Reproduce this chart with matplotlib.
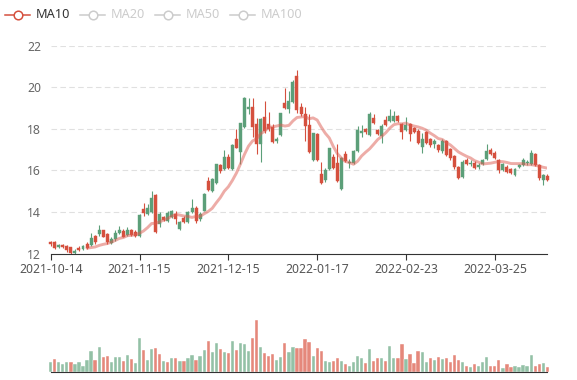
import matplotlib
matplotlib.use("Agg")
import matplotlib.pyplot as plt
import numpy as np
import pandas as pd
from matplotlib.lines import Line2D

plt.rcParams['font.family'] = ['Noto Sans', 'DejaVu Sans']

holidays = ["2022-01-03", "2022-01-31", "2022-02-01", "2022-02-02", "2022-02-03",
            "2022-02-04", "2022-04-04", "2022-04-05"]
dates = pd.bdate_range("2021-10-14", "2022-04-15", freq="C",
                       holidays=holidays).strftime("%Y-%m-%d").tolist()

opens = [12.56, 12.55, 12.30, 12.42, 12.35, 12.30, 12.05, 12.28, 12.22, 12.45,
         12.42, 12.86, 12.94, 13.12, 12.94, 12.53, 12.69, 13.00, 13.10, 12.90,
         13.15, 13.05, 12.85, 14.13, 13.90, 14.00, 14.82, 13.40, 13.75, 13.55,
         13.75, 13.90, 13.18, 13.71, 13.50, 13.99, 14.19, 13.66, 14.06, 15.50,
         14.99, 15.38, 16.27, 16.06, 16.65, 16.06, 17.50, 16.87, 18.07, 18.94,
         19.05, 18.22, 17.26, 18.55, 18.22, 18.11, 17.43, 17.71, 19.23, 18.95,
         19.27, 20.54, 19.05, 18.70, 18.19, 16.50, 17.74, 15.82, 15.54, 16.06,
         16.63, 16.34, 15.10, 16.80, 16.35, 16.35, 16.95, 17.80, 17.98, 17.70,
         18.53, 17.95, 17.66, 18.43, 18.40, 18.40, 18.62, 18.22, 17.94, 18.22,
         18.05, 17.92, 17.15, 17.85, 17.52, 17.25, 17.22, 16.92, 17.40, 17.03,
         16.69, 16.17, 15.70, 16.50, 16.30, 16.37, 16.15, 16.30, 16.55, 16.98,
         16.85, 16.50, 16.02, 16.17, 16.07, 15.78, 16.15, 16.28, 16.34, 16.32,
         16.78, 16.26, 15.54, 15.73]
closes = [12.44, 12.29, 12.40, 12.30, 12.17, 12.05, 12.14, 12.17, 12.38, 12.27,
          12.74, 12.57, 13.14, 12.82, 12.56, 12.69, 13.00, 13.14, 12.82, 13.14,
          12.90, 12.85, 13.86, 13.94, 14.18, 14.66, 13.06, 13.90, 13.60, 13.95,
          14.06, 13.66, 13.50, 13.50, 13.99, 14.18, 13.55, 13.90, 14.86, 15.06,
          15.58, 16.30, 15.98, 16.63, 16.11, 17.22, 17.10, 18.26, 19.50, 19.03,
          18.07, 17.26, 18.46, 17.90, 17.98, 17.39, 17.53, 18.74, 18.99, 19.35,
          20.23, 18.90, 18.70, 18.14, 16.91, 17.78, 16.50, 15.38, 16.02, 17.07,
          16.11, 15.47, 16.60, 16.45, 16.42, 16.95, 17.94, 17.92, 17.83, 18.72,
          18.30, 17.75, 18.12, 18.20, 18.64, 18.60, 18.40, 17.85, 18.20, 17.76,
          17.84, 17.32, 17.49, 17.30, 17.20, 17.40, 16.98, 17.40, 16.74, 16.58,
          16.16, 15.62, 16.42, 16.30, 16.38, 16.10, 16.28, 16.52, 16.94, 16.78,
          16.58, 16.03, 16.30, 15.93, 15.86, 16.07, 16.27, 16.50, 16.42, 16.82,
          16.26, 15.62, 15.76, 15.54]
lows = [12.38, 12.22, 12.26, 12.25, 12.06, 12.00, 12.00, 12.12, 12.15, 12.22,
        12.38, 12.46, 12.86, 12.78, 12.46, 12.48, 12.60, 12.95, 12.78, 12.85,
        12.85, 12.80, 12.80, 13.80, 13.85, 13.97, 13.00, 13.30, 13.55, 13.50,
        13.70, 13.42, 13.13, 13.46, 13.46, 13.96, 13.46, 13.58, 14.03, 15.02,
        14.94, 15.35, 15.90, 16.02, 16.06, 16.02, 17.06, 16.30, 18.04, 18.70,
        17.60, 16.80, 16.40, 17.82, 17.90, 17.34, 17.32, 17.67, 18.95, 18.77,
        19.22, 18.75, 18.60, 17.42, 16.86, 16.45, 16.45, 15.34, 15.45, 16.02,
        16.06, 15.42, 15.06, 16.40, 16.10, 16.30, 16.90, 17.62, 17.75, 17.65,
        18.25, 17.70, 17.30, 18.12, 18.35, 18.35, 18.35, 17.52, 17.90, 17.40,
        17.80, 17.28, 16.85, 17.25, 17.15, 17.10, 16.90, 16.85, 16.68, 16.52,
        16.08, 15.58, 15.66, 16.25, 16.20, 16.05, 16.08, 16.26, 16.50, 16.72,
        16.54, 15.86, 15.98, 15.88, 15.82, 15.73, 16.10, 16.22, 16.28, 16.28,
        16.20, 15.56, 15.30, 15.48]
highs = [12.62, 12.62, 12.47, 12.47, 12.40, 12.33, 12.20, 12.37, 12.42, 12.54,
         12.98, 12.90, 13.38, 13.14, 13.00, 12.78, 13.15, 13.33, 13.16, 13.30,
         13.20, 13.12, 13.90, 14.44, 14.38, 15.00, 14.85, 14.00, 13.82, 14.05,
         14.10, 14.06, 13.55, 13.82, 14.06, 14.62, 14.30, 13.98, 14.90, 15.70,
         15.62, 16.33, 16.33, 16.98, 16.81, 17.26, 18.00, 18.30, 19.53, 19.50,
         19.50, 18.50, 18.50, 19.35, 18.80, 18.22, 17.62, 18.78, 19.95, 19.81,
         20.33, 20.82, 19.22, 19.05, 18.70, 17.82, 17.80, 16.41, 16.12, 17.10,
         16.80, 17.26, 16.65, 16.92, 16.55, 17.00, 18.14, 18.20, 18.05, 18.80,
         18.70, 18.00, 18.25, 18.62, 18.95, 18.85, 18.68, 18.30, 18.55, 18.30,
         18.10, 17.98, 17.80, 17.92, 17.58, 17.50, 17.28, 17.50, 17.48, 17.10,
         16.75, 16.22, 16.48, 16.58, 16.48, 16.45, 16.36, 16.56, 17.28, 17.06,
         16.92, 16.55, 16.38, 16.25, 16.12, 16.14, 16.33, 16.58, 16.50, 16.98,
         16.84, 16.32, 15.82, 15.82]
volumes = [3.0, 3.9, 3.0, 2.4, 3.1, 3.1, 2.4, 3.1, 1.9, 3.7,
           6.4, 3.6, 7.5, 4.6, 5.0, 3.0, 4.5, 4.5, 3.5, 5.2,
           3.9, 2.9, 10.2, 6.8, 3.8, 7.0, 7.3, 5.4, 3.5, 3.2,
           4.2, 4.2, 3.4, 3.4, 4.2, 5.2, 3.8, 4.9, 6.8, 9.5,
           6.0, 8.9, 7.1, 6.1, 5.8, 9.5, 6.7, 8.8, 8.4, 6.4,
           10.2, 15.7, 7.5, 5.7, 5.0, 5.5, 3.6, 4.6, 8.9, 6.1,
           7.5, 7.2, 7.2, 9.9, 9.0, 5.0, 7.2, 6.3, 3.4, 3.0,
           3.4, 4.4, 3.4, 2.5, 1.8, 3.2, 4.9, 4.2, 2.9, 7.0,
           3.4, 4.3, 4.2, 3.3, 7.8, 4.2, 4.2, 8.5, 3.9, 5.5,
           2.8, 6.5, 6.0, 3.1, 4.2, 3.7, 4.5, 4.1, 4.2, 3.1,
           5.1, 3.8, 3.1, 1.9, 1.6, 2.6, 1.8, 3.1, 4.6, 1.9,
           1.9, 3.6, 1.3, 2.4, 1.6, 1.8, 1.6, 2.1, 2.0, 5.2,
           2.0, 2.4, 2.7, 1.5]
volume_up = [1, 0, 1, 1, 1, 0, 1, 1, 1, 1,
             1, 0, 1, 0, 0, 1, 1, 1, 0, 1,
             0, 1, 1, 0, 1, 1, 0, 0, 1, 0,
             1, 0, 1, 0, 1, 1, 0, 1, 1, 0,
             1, 1, 0, 1, 0, 1, 0, 1, 1, 1,
             0, 0, 1, 0, 0, 0, 1, 1, 0, 1,
             1, 0, 0, 0, 0, 1, 0, 0, 1, 1,
             0, 0, 1, 0, 1, 1, 1, 1, 0, 1,
             0, 0, 1, 0, 1, 1, 0, 0, 1, 0,
             0, 0, 1, 1, 0, 1, 0, 1, 0, 0,
             0, 0, 1, 0, 1, 0, 1, 1, 1, 0,
             0, 0, 1, 0, 0, 1, 1, 1, 1, 1,
             0, 0, 1, 0]
legend_names = ["MA10", "MA20", "MA50", "MA100"]

UP = '#5c9f79'
DOWN = '#d5503e'
VUP = '#93c1a6'
VDOWN = '#e5887b'
AXC = '#6e7079'

N = len(dates)
x = np.arange(N)
o = np.array(opens); c = np.array(closes)
lo = np.array(lows); hi = np.array(highs)
ma10 = pd.Series(closes).rolling(10).mean()

W, H = 577, 380
fig = plt.figure(figsize=(W / 100, H / 100), dpi=100)


def px_axes(l, t, r, b):
    return fig.add_axes([l / W, 1 - b / H, (r - l) / W, (b - t) / H])


ax = px_axes(50.7, 45.7, 547.3, 253.6)
axv = px_axes(50.7, 300.0, 547.3, 372.3)

# main candlestick pane
ax.set_xlim(0, N - 1)
ax.set_ylim(12, 22)
for yv in range(14, 23, 2):
    ax.axhline(yv, color='#e0e0e0', lw=0.8, ls=(0, (5, 3)), zorder=0)

cols = [UP if cc >= oo else DOWN for oo, cc in zip(o, c)]
ax.vlines(x, lo, hi, colors=cols, lw=0.8, zorder=2, clip_on=False)
bottoms = np.minimum(o, c)
heights = np.maximum(np.abs(c - o), 0.02)
ax.bar(x, heights, bottom=bottoms, width=0.74, color=cols, edgecolor=cols,
       linewidth=0.3, zorder=3, clip_on=False)
ax.plot(x, ma10, color='#dc5b50', alpha=0.5, lw=2.1, zorder=4,
        solid_capstyle='round', solid_joinstyle='round')

ax.set_yticks(range(12, 23, 2))
ax.set_xticks(range(0, N, 22))
ax.set_xticklabels([dates[i] for i in range(0, N, 22)])
for s in ['top', 'right', 'left']:
    ax.spines[s].set_visible(False)
ax.spines['bottom'].set_color('#333333')
ax.spines['bottom'].set_linewidth(0.8)
ax.tick_params(axis='y', length=0, pad=7, labelsize=8.8, labelcolor='#666666')
ax.tick_params(axis='x', length=4, width=0.8, color='#333333', pad=3,
               labelsize=8.8, labelcolor='#555555')

# volume pane
axv.set_xlim(0, N - 1)
axv.set_ylim(0, 21.7)
vcols = [VUP if u else VDOWN for u in volume_up]
axv.bar(x, volumes, width=0.8, color=vcols, edgecolor='white', linewidth=0.3,
        zorder=2, clip_on=False)
for s in ['top', 'right', 'left']:
    axv.spines[s].set_visible(False)
axv.spines['bottom'].set_color('#333333')
axv.spines['bottom'].set_linewidth(0.8)
axv.set_xticks([])
axv.set_yticks([])

# legend
leg_icon_x = [5, 80, 155, 230]
for name, lx, active in zip(legend_names, leg_icon_x, [True, False, False, False]):
    col = DOWN if active else '#cccccc'
    yy = 1 - 15 / H
    fig.add_artist(Line2D([lx / W, (lx + 25) / W], [yy, yy], color=col, lw=1.1))
    fig.add_artist(Line2D([(lx + 12.5) / W], [yy], marker='o', markersize=6.2,
                          markerfacecolor='white', markeredgecolor=col,
                          markeredgewidth=1.1, color=col))
    fig.text((lx + 31) / W, yy, name, fontsize=9.2,
             color='#333333' if active else '#cccccc', va='center', ha='left')

fig.savefig('out.png', dpi=100)
